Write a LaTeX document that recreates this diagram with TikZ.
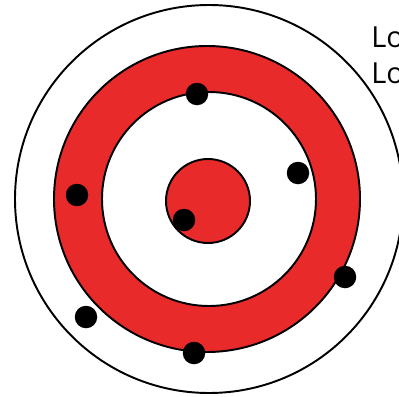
\documentclass[tikz,border=0pt]{standalone}
\usepackage{fontspec}
\setmainfont{Open Sans}
\usetikzlibrary{positioning}
\definecolor{ringred}{RGB}{232,42,42}
\tikzset{
    % target rings, thin black outline
    ring/.style={draw=black, line width=1.1pt},
    % red filled zones of the target
    zone/.style={ring, fill=ringred},
    % black hit marks
    hit/.style={circle, fill=black, inner sep=0pt, minimum size=22.5*0.02cm},
    % legend text at the right edge
    legend/.style={font=\fontsize{16.5}{20}\selectfont, inner sep=0pt, anchor=base west},
}

\begin{document}
\begin{tikzpicture}[x=0.02cm, y=-0.02cm]
    \useasboundingbox (0,0) rectangle (399,396);

    % ---- target ----
    \draw[ring] (209,199) circle (194);
    \draw[zone] (207,199) circle (153);
    \draw[ring, fill=white] (209,199) circle (107);
    \draw[zone] (208,201) circle (42);

    % ---- hits ----
    \node[hit] (h1) at (197,94)  {};
    \node[hit] (h2) at (298,173) {};
    \node[hit] (h3) at (77,195)  {};
    \node[hit] (h4) at (184,220) {};
    \node[hit] (h5) at (345,277) {};
    \node[hit] (h6) at (86,317)  {};
    \node[hit] (h7) at (194,353) {};

    % ---- legend ----
    \node[legend] (l1) at (371,47) {Lo};
    \node[legend] (l2) at (371,83) {Lo};

\end{tikzpicture}
\end{document}
